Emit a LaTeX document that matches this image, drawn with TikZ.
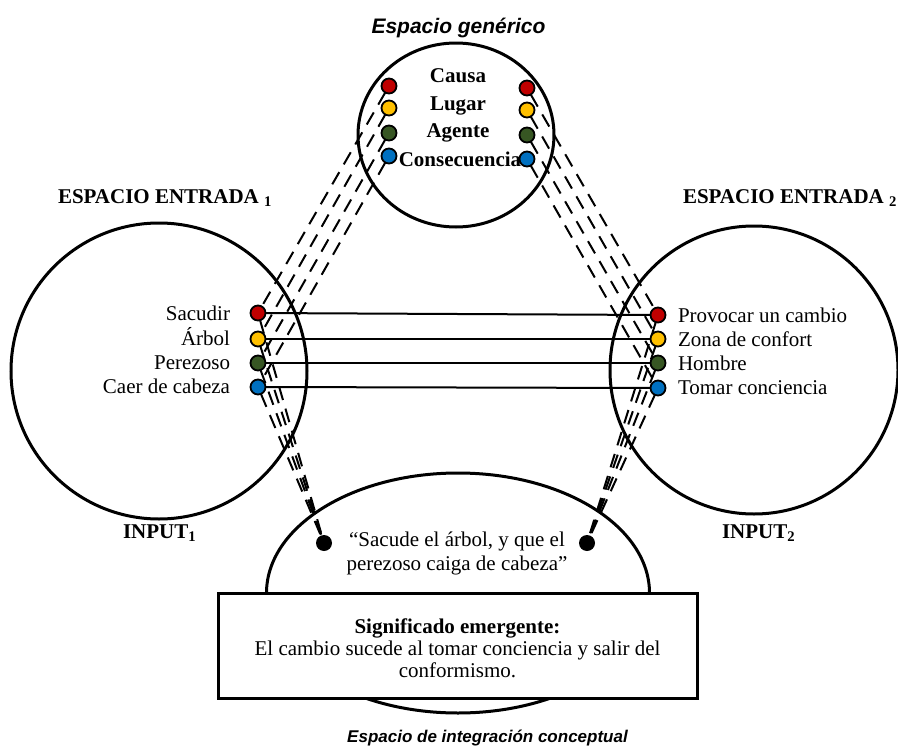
\documentclass[tikz,border=0pt]{standalone}
\usepackage{fontspec}
\setmainfont{Liberation Serif}
\newfontfamily\arialf{Liberation Sans}
\usetikzlibrary{shapes.geometric}
\definecolor{cred}{HTML}{C00000}
\definecolor{cyel}{HTML}{FFC000}
\definecolor{cgrn}{HTML}{375623}
\definecolor{cblu}{HTML}{0070C0}
\pgfdeclarelayer{bg}
\pgfsetlayers{bg,main}
\begin{document}
\begin{tikzpicture}[x=1pt,y=-1pt,
  every node/.style={font=\fontsize{21}{25}\selectfont, inner sep=0pt, outer sep=0pt},
  space/.style={draw, ellipse, line width=3pt, inner sep=0pt},
  dot/.style={circle, draw, line width=1.8pt, minimum size=15pt, inner sep=0pt},
  bdot/.style={circle, fill=black, minimum size=16pt, inner sep=0pt},
  dsh/.style={line width=2pt, dash pattern=on 14pt off 9pt},
  hl/.style={line width=2pt},
  ttl/.style={font=\fontsize{21}{25}\selectfont\bfseries},
  gttl/.style={font=\fontsize{21}{25}\selectfont\arialf\bfseries\itshape},
  sttl/.style={font=\fontsize{17}{20}\selectfont\arialf\bfseries\itshape},
]
\useasboundingbox (0,0) rectangle (898,747);

% spaces
\node[space, minimum width=196pt, minimum height=184pt] (gen) at (456,135) {};
\node[space, minimum width=296pt, minimum height=296pt] (in1) at (159,371) {};
\node[space, minimum width=288pt, minimum height=288pt] (in2) at (754,370) {};
\node[space, minimum width=383pt, minimum height=240pt] (bl) at (458,593) {};

% titles
\node[gttl, anchor=base] (tgen) at (458.5,33) {Espacio genérico};
\node[ttl, anchor=base west] (tin1) at (58,203) {ESPACIO ENTRADA \textsubscript{1}};
\node[ttl, anchor=base west] (tin2) at (683,203) {ESPACIO ENTRADA \textsubscript{2}};
\node[ttl, anchor=base west] (inp1) at (123,538) {INPUT\textsubscript{1}};
\node[ttl, anchor=base west] (inp2) at (722,538) {INPUT\textsubscript{2}};
\node[sttl, anchor=base] (tbl) at (487.5,742) {Espacio de integración conceptual};

% generic labels
\node[ttl, anchor=base] (c1) at (458,82) {Causa};
\node[ttl, anchor=base] (c2) at (458,110) {Lugar};
\node[ttl, anchor=base] (c3) at (458,137) {Agente};
\node[ttl, anchor=base] (c4) at (460,166) {Consecuencia};

% generic dots
\node[dot, fill=cred] (g1) at (389,86) {};
\node[dot, fill=cyel] (g2) at (389,108) {};
\node[dot, fill=cgrn] (g3) at (389,133) {};
\node[dot, fill=cblu] (g4) at (389,156) {};
\node[dot, fill=cred] (h1) at (527,88) {};
\node[dot, fill=cyel] (h2) at (527,110) {};
\node[dot, fill=cgrn] (h3) at (527,135) {};
\node[dot, fill=cblu] (h4) at (527,159) {};

% input 1
\node[dot, fill=cred] (l1) at (258,313) {};
\node[dot, fill=cyel] (l2) at (258,339) {};
\node[dot, fill=cgrn] (l3) at (258,363) {};
\node[dot, fill=cblu] (l4) at (258,387) {};
\node[anchor=base east] (a1) at (230,320) {Sacudir};
\node[anchor=base east] (a2) at (230,345) {Árbol};
\node[anchor=base east] (a3) at (230,369) {Perezoso};
\node[anchor=base east] (a4) at (230,393) {Caer de cabeza};

% input 2
\node[dot, fill=cred] (r1) at (658,315) {};
\node[dot, fill=cyel] (r2) at (658,339) {};
\node[dot, fill=cgrn] (r3) at (658,363) {};
\node[dot, fill=cblu] (r4) at (658,388) {};
\node[anchor=base west] (b1t) at (678,322) {Provocar un cambio};
\node[anchor=base west] (b2t) at (678,346) {Zona de confort};
\node[anchor=base west] (b3t) at (678,370) {Hombre};
\node[anchor=base west] (b4t) at (678,394) {Tomar conciencia};

% blend
\node[bdot] (bd1) at (324,543) {};
\node[bdot] (bd2) at (587,543) {};
\node[align=center, font=\fontsize{21}{24}\selectfont] (quote) at (457,553) {“Sacude el árbol, y que el\\perezoso caiga de cabeza”};

\node[draw, line width=3pt, fill=white, minimum width=479pt, minimum height=105pt] (box) at (457.5,645.5) {};
\node[align=center, font=\fontsize{21}{22}\selectfont] (sig) at (457.5,648)
  {\textbf{Significado emergente:}\\El cambio sucede al tomar conciencia y salir del\\conformismo.};

% connectors
\begin{pgfonlayer}{bg}
\foreach \i in {1,...,4}{
  \draw[dsh] (g\i) -- (l\i);
  \draw[dsh] (h\i) -- (r\i);
  \draw[dsh] (l\i) -- (bd1);
  \draw[dsh] (r\i) -- (bd2);
  \draw[hl] (l\i) -- (r\i);
}
\end{pgfonlayer}
\end{tikzpicture}
\end{document}
